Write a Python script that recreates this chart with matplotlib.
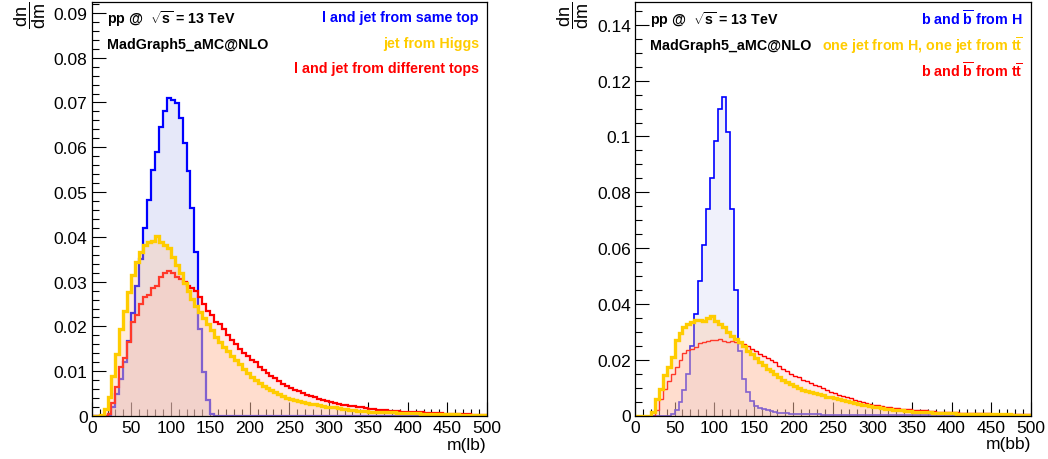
import numpy as np
import matplotlib
matplotlib.use("Agg")
import matplotlib.pyplot as plt
from matplotlib.ticker import MultipleLocator, FuncFormatter

plt.rcParams['font.family'] = 'Liberation Sans'
plt.rcParams['mathtext.fontset'] = 'custom'
plt.rcParams['mathtext.rm'] = 'Liberation Sans'
plt.rcParams['mathtext.it'] = 'Liberation Sans:italic'
plt.rcParams['mathtext.bf'] = 'Liberation Sans:bold'

# 100 bins of 5 GeV from 0 to 500, normalised to unit sum
edges = np.arange(0, 505, 5)

# m(lb)
lb_same_top = [
    0, 0, 0, 0, 0.0003, 0.002, 0.005, 0.0083, 0.012, 0.0168,
    0.023, 0.029, 0.035, 0.042, 0.0482, 0.0549, 0.059, 0.0646, 0.068, 0.0711,
    0.0706, 0.0698, 0.0665, 0.0609, 0.0546, 0.0465, 0.0367, 0.0195, 0.0098, 0.0035,
    0.0005, 0, 0, 0, 0, 0, 0, 0, 0, 0,
] + [0] * 60
lb_higgs = [
    0, 0, 0.0003, 0.0015, 0.0042, 0.009, 0.0139, 0.0195, 0.0234, 0.0277,
    0.0314, 0.0344, 0.0366, 0.0382, 0.0388, 0.039, 0.0402, 0.0388, 0.0382, 0.0375,
    0.0355, 0.0338, 0.032, 0.0298, 0.028, 0.0262, 0.0245, 0.0232, 0.0218, 0.0205,
    0.0192, 0.0177, 0.0165, 0.0155, 0.0146, 0.0135, 0.0124, 0.0115, 0.0105, 0.0096,
    0.0088, 0.0081, 0.0074, 0.0068, 0.0062, 0.0057, 0.0053, 0.0049, 0.0045, 0.0041,
    0.0038, 0.0036, 0.0033, 0.0031, 0.0029, 0.0027, 0.0026, 0.0024, 0.0022, 0.0021,
    0.002, 0.0019, 0.0017, 0.0016, 0.0015, 0.0014, 0.0013, 0.0012, 0.0012, 0.0011,
    0.001, 0.001, 0.0009, 0.0009, 0.0008, 0.0008, 0.0008, 0.0007, 0.0007, 0.0007,
    0.0006, 0.0006, 0.0006, 0.0005, 0.0005, 0.0005, 0.0005, 0.0004, 0.0004, 0.0004,
    0.0004, 0.0004, 0.0004, 0.0003, 0.0003, 0.0003, 0.0003, 0.0003, 0.0003, 0.0003,
]
lb_diff_tops = [
    0, 0, 0, 0, 0.0005, 0.003, 0.0065, 0.011, 0.013, 0.0165,
    0.021, 0.0225, 0.025, 0.0265, 0.027, 0.0285, 0.029, 0.031, 0.032, 0.0323,
    0.032, 0.031, 0.0305, 0.030, 0.029, 0.0285, 0.028, 0.0265, 0.025, 0.0235,
    0.0225, 0.021, 0.0205, 0.0195, 0.018, 0.017, 0.016, 0.015, 0.014, 0.0135,
    0.0125, 0.012, 0.011, 0.0102, 0.0095, 0.009, 0.0085, 0.0078, 0.0072, 0.0067,
    0.0063, 0.0058, 0.0055, 0.0052, 0.0048, 0.0045, 0.0042, 0.0039, 0.0036, 0.0034,
    0.0031, 0.003, 0.0027, 0.0025, 0.0024, 0.0022, 0.0022, 0.002, 0.0019, 0.0017,
    0.0016, 0.0015, 0.0014, 0.0014, 0.0013, 0.0012, 0.0011, 0.0011, 0.001, 0.001,
    0.0009, 0.0009, 0.0008, 0.0008, 0.0007, 0.0007, 0.0006, 0.0006, 0.0006, 0.0005,
    0.0005, 0.0005, 0.0004, 0.0004, 0.0004, 0.0004, 0.0003, 0.0003, 0.0003, 0.0003,
]

# m(bb)
bb_higgs = [
    0, 0, 0, 0, 0, 0, 0, 0, 0, 0.0005,
    0.002, 0.005, 0.009, 0.015, 0.025, 0.0364, 0.0483, 0.0611, 0.074, 0.085,
    0.0985, 0.1099, 0.114, 0.1017, 0.074, 0.045, 0.023, 0.0131, 0.0083, 0.0053,
    0.0035, 0.0027, 0.0022, 0.0018, 0.0015, 0.0012, 0.001, 0.0009, 0.0008, 0.0007,
    0.0006, 0.0006, 0.0005, 0.0005, 0.0004, 0.0004, 0.0004, 0.0003, 0.0003, 0.0003,
    0.0002, 0.0002, 0.0002, 0.0002, 0.0002, 0.0002, 0.0002, 0.0002, 0.0002, 0.0002,
] + [0.0001] * 40
bb_mixed = [
    0, 0, 0, 0, 0.0014, 0.006, 0.0095, 0.0145, 0.0175, 0.021,
    0.027, 0.0295, 0.0316, 0.0328, 0.0336, 0.0343, 0.0343, 0.034, 0.0348, 0.0356,
    0.034, 0.0328, 0.0316, 0.0298, 0.0284, 0.0274, 0.0262, 0.025, 0.0232, 0.0221,
    0.0205, 0.0192, 0.018, 0.0168, 0.0158, 0.0148, 0.0138, 0.0129, 0.012, 0.0112,
    0.0105, 0.0098, 0.0092, 0.0088, 0.0084, 0.008, 0.0076, 0.0072, 0.0068, 0.0065,
    0.0062, 0.0059, 0.0055, 0.0052, 0.0048, 0.0045, 0.0042, 0.0039, 0.0036, 0.0034,
    0.0031, 0.0029, 0.0027, 0.0025, 0.0023, 0.0021, 0.002, 0.0018, 0.0017, 0.0015,
    0.0014, 0.0013, 0.0012, 0.0011, 0.0011, 0.001, 0.0009, 0.0009, 0.0008, 0.0008,
    0.0008, 0.0007, 0.0007, 0.0007, 0.0006, 0.0006, 0.0006, 0.0005, 0.0005, 0.0005,
    0.0005, 0.0004, 0.0004, 0.0004, 0.0004, 0.0003, 0.0003, 0.0003, 0.0003, 0.0003,
]
bb_ttbar = [
    0, 0, 0, 0, 0, 0.002, 0.006, 0.0095, 0.0125, 0.015,
    0.0175, 0.02, 0.0225, 0.0235, 0.024, 0.0245, 0.026, 0.0262, 0.0268, 0.027,
    0.0272, 0.0275, 0.0268, 0.0265, 0.0268, 0.0262, 0.026, 0.0255, 0.0248, 0.024,
    0.0232, 0.0222, 0.0213, 0.0205, 0.0198, 0.019, 0.0178, 0.0168, 0.0158, 0.0148,
    0.0143, 0.0138, 0.0128, 0.0122, 0.0115, 0.011, 0.0104, 0.0098, 0.0091, 0.0085,
    0.008, 0.0075, 0.0071, 0.0066, 0.0061, 0.0056, 0.0051, 0.0048, 0.0045, 0.0042,
    0.0039, 0.0037, 0.0034, 0.0032, 0.003, 0.0028, 0.0026, 0.0025, 0.0023, 0.0022,
    0.002, 0.0019, 0.0018, 0.0018, 0.0016, 0.0015, 0.0014, 0.0013, 0.0013, 0.0012,
    0.0011, 0.0011, 0.001, 0.001, 0.0009, 0.0009, 0.0009, 0.0008, 0.0008, 0.0008,
    0.0007, 0.0007, 0.0007, 0.0006, 0.0006, 0.0006, 0.0006, 0.0005, 0.0005, 0.0005,
]

BLUE = '#0000ff'
GOLD = '#ffcc00'
RED = '#ff0000'
# translucent pastel fills, so lines drawn earlier show through them
BLUE_FILL = '#aeb4ee'
RED_FILL = '#ffbebe'
GOLD_FILL = '#ffbe8c'


def draw_hist(ax, vals, color, fill, alpha, lw):
    vals = np.asarray(vals)
    ax.stairs(vals, edges, fill=True, color=fill, alpha=alpha, lw=0)
    ax.stairs(vals, edges, color=color, lw=lw)


def style_axes(ax, ymax, major, minor, xlabel):
    ax.set_xlim(0, 500)
    ax.set_ylim(0, ymax)
    ax.xaxis.set_major_locator(MultipleLocator(50))
    ax.xaxis.set_minor_locator(MultipleLocator(10))
    ax.yaxis.set_major_locator(MultipleLocator(major))
    ax.yaxis.set_minor_locator(MultipleLocator(minor))
    ax.yaxis.set_major_formatter(FuncFormatter(lambda v, p: f'{round(v, 4):g}'))
    ax.tick_params(which='both', direction='in', top=False, right=False,
                   width=0.8, labelsize=12.5, pad=3)
    ax.tick_params(which='major', length=10)
    ax.tick_params(which='minor', length=5)
    ax.set_axisbelow(True)
    for s in ax.spines.values():
        s.set_linewidth(0.9)
    ax.set_xlabel(xlabel, fontsize=12.5, loc='right', labelpad=1)


fig = plt.figure(figsize=(10.48, 4.6), dpi=100)
ax1 = fig.add_axes([91.7 / 1048, 43 / 460, 395 / 1048, 414 / 460])
ax2 = fig.add_axes([635 / 1048, 43.5 / 460, 395.7 / 1048, 413.5 / 460])

# left: lepton + b-jet pairings
draw_hist(ax1, lb_same_top, BLUE, BLUE_FILL, 0.3, 1.6)
draw_hist(ax1, lb_diff_tops, RED, RED_FILL, 0.3, 1.6)
draw_hist(ax1, lb_higgs, GOLD, GOLD_FILL, 0.3, 2.4)
style_axes(ax1, 1.3 * max(lb_same_top), 0.01, 0.002, 'm(lb)')

# right: b-jet pairs
draw_hist(ax2, bb_higgs, BLUE, BLUE_FILL, 0.18, 1.2)
draw_hist(ax2, bb_ttbar, RED, RED_FILL, 0.3, 1.0)
draw_hist(ax2, bb_mixed, GOLD, GOLD_FILL, 0.3, 2.4)
style_axes(ax2, 1.3 * max(bb_higgs), 0.02, 0.005, 'm(bb)')

fs = 10.3
for ax, yb in ((ax1, (0.9486, 0.8889)), (ax2, (0.9468, 0.8863))):
    ax.text(0.0387, yb[0], r'pp @  $\sqrt{\mathbf{s}}$ = 13 TeV', transform=ax.transAxes,
            fontsize=fs, fontweight='bold', va='baseline')
    ax.text(0.0387, yb[1], 'MadGraph5_aMC@NLO', transform=ax.transAxes,
            fontsize=fs, fontweight='bold', va='baseline')

left_labels = ['l and jet from same top', 'jet from Higgs', 'l and jet from different tops']
right_labels = [r'b and $\overline{\mathbf{b}}$ from H',
                r'one jet from H, one jet from t$\overline{\mathbf{t}}$',
                r'b and $\overline{\mathbf{b}}$ from t$\overline{\mathbf{t}}$']
for ax, labels, ys in ((ax1, left_labels, (0.9534, 0.8906, 0.8302)),
                       (ax2, right_labels, (0.9444, 0.8846, 0.8203))):
    for lab, y, c in zip(labels, ys, (BLUE, GOLD, RED)):
        ax.text(0.9805, y, lab, transform=ax.transAxes, color=c,
                fontsize=fs, fontweight='bold', ha='right', va='baseline')

for x0 in (30 / 1048, 573 / 1048):
    fig.text(x0, 1 - 2 / 460, r'$\dfrac{\mathrm{dn}}{\mathrm{dm}}$', rotation=90,
             fontsize=13, ha='center', va='top')

fig.savefig('out.png', dpi=100, facecolor='white')
